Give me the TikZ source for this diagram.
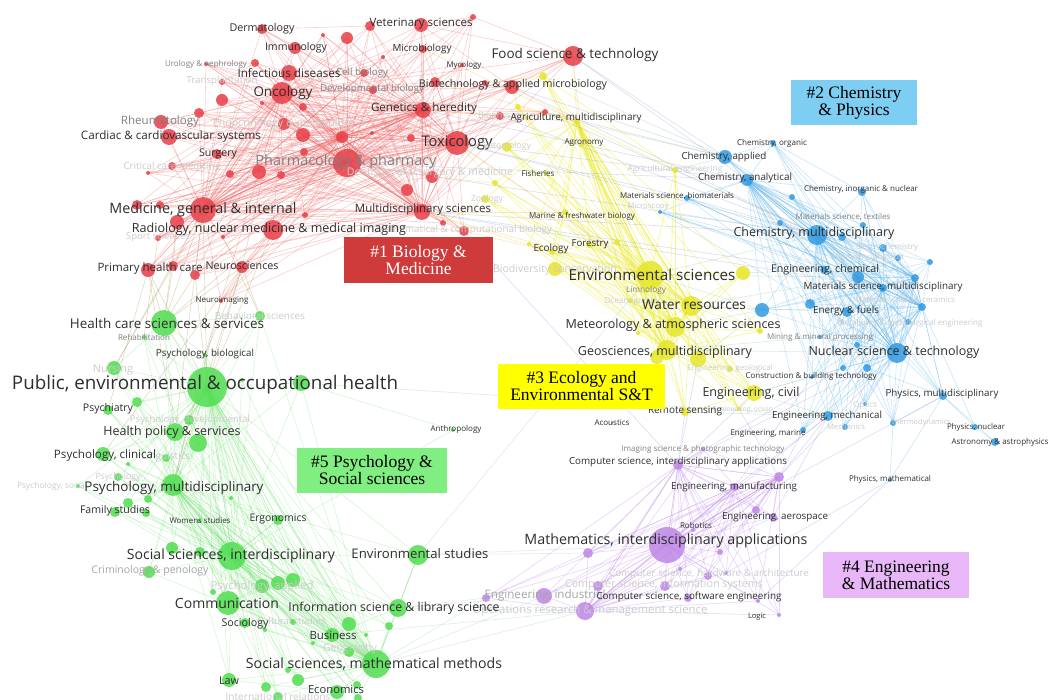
\documentclass[tikz,border=0pt]{standalone}
\usepackage{fontspec}
\usepackage{graphicx}
\newfontfamily\osans{Open Sans}
\newfontfamily\bserif{Liberation Serif}
\pgfdeclarelayer{bg}
\pgfdeclarelayer{edges}
\pgfsetlayers{bg,edges,main}
\definecolor{cR}{RGB}{232,62,72}
\definecolor{cY}{RGB}{230,230,40}
\definecolor{cB}{RGB}{50,155,225}
\definecolor{cP}{RGB}{190,135,230}
\definecolor{cG}{RGB}{80,222,80}
\definecolor{lR}{RGB}{240,95,95}
\definecolor{lY}{RGB}{236,236,30}
\definecolor{lB}{RGB}{90,180,235}
\definecolor{lP}{RGB}{200,150,240}
\definecolor{lG}{RGB}{100,225,100}
\definecolor{lRG}{RGB}{175,150,90}
\definecolor{lRY}{RGB}{240,190,60}
\definecolor{lRB}{RGB}{150,160,205}
\definecolor{lYB}{RGB}{150,200,160}
\definecolor{lBP}{RGB}{160,150,230}
\definecolor{lGP}{RGB}{170,200,200}
\definecolor{bx1}{RGB}{207,58,58}
\definecolor{bx2}{RGB}{126,206,244}
\definecolor{bx3}{RGB}{255,255,0}
\definecolor{bx4}{RGB}{231,183,247}
\definecolor{bx5}{RGB}{128,238,128}
\colorlet{dk}{black!82}
\colorlet{md}{black!50}
\colorlet{lt}{black!20}
\tikzset{
  bub/.style={circle,inner sep=0pt,outer sep=0pt,draw=none,fill opacity=0.85},
  lbl/.style={inner sep=0pt,outer sep=0pt},
  eR/.style={draw=lR,opacity=0.3,line width=0.6pt},
  eY/.style={draw=lY,opacity=0.45,line width=0.6pt},
  eB/.style={draw=lB,opacity=0.32,line width=0.6pt},
  eP/.style={draw=lP,opacity=0.4,line width=0.6pt},
  eG/.style={draw=lG,opacity=0.28,line width=0.6pt},
  eX/.style={opacity=0.35,line width=0.6pt},
  box/.style={inner sep=0pt,align=center,font=\bserif\fontsize{17.5}{17}\selectfont}
}
\newcommand\bubn[5]{\node[bub,fill=#5,minimum size=#4*2pt] (#1) at (#2,#3) {};}
\newcommand\lbln[6]{\node[lbl,text=#5] (L#1) at (#2,#3) {\resizebox{#4pt}{!}{\osans #6}};}
\begin{document}
\begin{tikzpicture}[x=1pt,y=-1pt]
\begin{pgfonlayer}{bg}
\fill[white] (0,0) rectangle (1050,700);
\end{pgfonlayer}
\useasboundingbox (0,0) rectangle (1050,700);
% ---------- red bubbles
\bubn{derm}{262}{29}{5}{cR}
\bubn{vetA}{370}{26}{5}{cR}
\bubn{vet}{421}{25}{7}{cR}
\bubn{rtop}{473}{17}{3}{cR}
\bubn{rs1}{323}{35}{2}{cR}
\bubn{rs2}{347}{38}{6}{cR}
\bubn{immu}{295}{48}{6}{cR}
\bubn{micro}{423}{49}{4}{cR}
\bubn{myco}{462}{65}{2}{cR}
\bubn{rs3}{383}{57}{2}{cR}
\bubn{uroA}{206}{64}{2}{cR}
\bubn{uro}{255}{63}{4}{cR}
\bubn{infect}{289}{73}{8}{cR}
\bubn{cellb}{364}{73}{4}{cR}
\bubn{transp}{222}{82}{3}{cR}
\bubn{onco}{282}{93}{11}{cR}
\bubn{devb}{373}{90}{4}{cR}
\bubn{rs4}{303}{107}{4}{cR}
\bubn{biot}{512}{87}{7}{cR}
\bubn{biotA}{435}{82}{5}{cR}
\bubn{rs5}{485}{83}{3}{cR}
\bubn{food}{573}{56}{10}{cR}
\bubn{genet}{423}{110}{8}{cR}
\bubn{rs6}{222}{100}{6}{cR}
\bubn{rs7}{199}{113}{5}{cR}
\bubn{rheum}{161}{122}{7}{cR}
\bubn{endo}{284}{124}{6}{cR}
\bubn{cardio}{169}{137}{8}{cR}
\bubn{rs8}{303}{135}{7}{cR}
\bubn{rs9}{342}{137}{6}{cR}
\bubn{rs10}{372}{133}{2}{cR}
\bubn{rs11}{411}{138}{4}{cR}
\bubn{tox}{457}{143}{12}{cR}
\bubn{biophys}{500}{116}{4}{cR}
\bubn{rs12}{545}{112}{3}{cR}
\bubn{surg}{217}{154}{5}{cR}
\bubn{rs13}{304}{152}{4}{cR}
\bubn{crit}{172}{166}{4}{cR}
\bubn{rs14}{148}{173}{2}{cR}
\bubn{pharm}{347}{163}{14}{cR}
\bubn{rs15}{259}{172}{7}{cR}
\bubn{rs16}{281}{175}{4}{cR}
\bubn{rs17}{230}{174}{4}{cR}
\bubn{dent}{432}{177}{6}{cR}
\bubn{rs18}{407}{190}{6}{cR}
\bubn{med}{203}{210}{13}{cR}
\bubn{rs19}{177}{222}{7}{cR}
\bubn{rs20}{137}{205}{5}{cR}
\bubn{rs21}{160}{205}{4}{cR}
\bubn{radio}{273}{230}{10}{cR}
\bubn{multi}{422}{212}{8}{cR}
\bubn{rs22}{443}{223}{3}{cR}
\bubn{mathb}{464}{231}{5}{cR}
\bubn{rs23}{305}{215}{3}{cR}
\bubn{rs24}{262}{103}{2}{cR}
\bubn{sport}{158}{238}{3}{cR}
\bubn{rs25}{223}{237}{2}{cR}
\bubn{primary}{148}{270}{7}{cR}
\bubn{rs27}{173}{266}{5}{cR}
\bubn{rs28}{195}{275}{5}{cR}
\bubn{neuro}{242}{267}{6}{cR}
\bubn{neuroim}{221}{301}{2}{cR}
% ---------- yellow bubbles
\bubn{yA}{543}{76}{4}{cY}
\bubn{agric}{577}{122}{3}{cY}
\bubn{yB}{518}{107}{3}{cY}
\bubn{entom}{507}{147}{5}{cY}
\bubn{agron}{582}{145}{2}{cY}
\bubn{fish}{545}{172}{2}{cY}
\bubn{yC}{495}{183}{3}{cY}
\bubn{zool}{485}{199}{4}{cY}
\bubn{marine}{565}{212}{3}{cY}
\bubn{yD}{529}{244}{2}{cY}
\bubn{ecol}{552}{252}{3}{cY}
\bubn{biodiv}{555}{269}{7}{cY}
\bubn{forest}{590}{245}{3}{cY}
\bubn{yE}{617}{242}{3}{cY}
\bubn{env}{650}{275}{14}{cY}
\bubn{yF}{743}{273}{7}{cY}
\bubn{limno}{646}{291}{2}{cY}
\bubn{ocean}{630}{301}{2}{cY}
\bubn{water}{691}{306}{10}{cY}
\bubn{meteo}{675}{327}{10}{cY}
\bubn{yG}{760}{331}{3}{cY}
\bubn{yH}{638}{333}{2}{cY}
\bubn{geo}{667}{350}{10}{cY}
\bubn{yI}{657}{357}{7}{cY}
\bubn{yJ}{698}{359}{8}{cY}
\bubn{engeol}{730}{369}{3}{cY}
\bubn{civil}{754}{393}{8}{cY}
\bubn{remote}{685}{412}{4}{cY}
\bubn{engoc}{739}{409}{2}{cY}
\bubn{agreng}{675}{170}{3}{cY}
% ---------- blue bubbles
\bubn{orgc}{773}{143}{3}{cB}
\bubn{chapp}{725}{157}{7}{cB}
\bubn{chana}{747}{180}{6}{cB}
\bubn{inorg}{862}{192}{4}{cB}
\bubn{bA}{792}{197}{3}{cB}
\bubn{biomat}{687}{198}{3}{cB}
\bubn{micros}{660}{212}{2}{cB}
\bubn{bB}{780}{223}{3}{cB}
\bubn{chmulti}{817}{235}{10}{cB}
\bubn{bC}{842}{237}{4}{cB}
\bubn{textile}{863}{225}{3}{cB}
\bubn{electro}{883}{248}{4}{cB}
\bubn{chphys}{898}{258}{3}{cB}
\bubn{engchem}{858}{277}{6}{cB}
\bubn{bD}{824}{270}{4}{cB}
\bubn{matmulti}{883}{288}{4}{cB}
\bubn{bE}{915}{278}{4}{cB}
\bubn{bF}{922}{307}{4}{cB}
\bubn{bG}{930}{262}{3}{cB}
\bubn{bH}{762}{310}{7}{cB}
\bubn{bI}{810}{304}{5}{cB}
\bubn{energy}{847}{312}{5}{cB}
\bubn{metall}{908}{322}{3}{cB}
\bubn{mining}{820}{337}{2}{cB}
\bubn{nuclear}{897}{353}{10}{cB}
\bubn{bJ}{867}{368}{4}{cB}
\bubn{bK}{843}{368}{3}{cB}
\bubn{bL}{857}{345}{3}{cB}
\bubn{constr}{812}{377}{2}{cB}
\bubn{physmulti}{943}{396}{4}{cB}
\bubn{optics}{865}{404}{2}{cB}
\bubn{engmech}{828}{416}{5}{cB}
\bubn{mechan}{845}{427}{3}{cB}
\bubn{thermo}{893}{423}{3}{cB}
\bubn{physnuc}{975}{427}{3}{cB}
\bubn{astro}{995}{442}{4}{cB}
\bubn{physmath}{890}{480}{2}{cB}
\bubn{engmar}{803}{430}{3}{cB}
% ---------- purple bubbles
\bubn{imaging}{703}{449}{2}{cP}
\bubn{acoust}{612}{423}{1.5}{cP}
\bubn{csint}{678}{465}{5}{cP}
\bubn{pA}{779}{477}{5}{cP}
\bubn{engman}{735}{487}{4}{cP}
\bubn{pB}{756}{510}{4}{cP}
\bubn{aero}{773}{517}{4}{cP}
\bubn{robot}{693}{530}{2}{cP}
\bubn{math}{667}{545}{18}{cP}
\bubn{pC}{588}{553}{5}{cP}
\bubn{pD}{720}{552}{3}{cP}
\bubn{pE}{680}{569}{2}{cP}
\bubn{pF}{708}{576}{4}{cP}
\bubn{pG}{726}{573}{2}{cP}
\bubn{infosys}{598}{586}{5}{cP}
\bubn{pH}{665}{586}{5}{cP}
\bubn{softeng}{688}{598}{4}{cP}
\bubn{indus}{544}{596}{8}{cP}
\bubn{oper}{585}{611}{9}{cP}
\bubn{pI}{486}{598}{4}{cP}
\bubn{pJ}{758}{601}{2}{cP}
\bubn{logic}{779}{615}{2}{cP}
% ---------- green bubbles
\bubn{hcare}{164}{323}{13}{cG}
\bubn{gA}{260}{316}{5}{cG}
\bubn{rehab}{144}{337}{2}{cG}
\bubn{psybio}{205}{355}{2}{cG}
\bubn{nursing}{114}{368}{7}{cG}
\bubn{public}{207}{387}{20}{cG}
\bubn{gB}{301}{383}{8}{cG}
\bubn{gC}{242}{380}{2}{cG}
\bubn{gD}{137}{402}{5}{cG}
\bubn{psychiat}{108}{410}{5}{cG}
\bubn{psydev}{189}{420}{5}{cG}
\bubn{hpolicy}{175}{432}{9}{cG}
\bubn{gE}{198}{443}{9}{cG}
\bubn{psyclin}{103}{454}{7}{cG}
\bubn{gF}{128}{464}{2}{cG}
\bubn{ling}{166}{458}{4}{cG}
\bubn{gG}{118}{477}{4}{cG}
\bubn{gH}{78}{486}{2}{cG}
\bubn{psymulti}{173}{485}{11}{cG}
\bubn{gI}{128}{503}{5}{cG}
\bubn{gJ}{148}{499}{4}{cG}
\bubn{family}{115}{512}{5}{cG}
\bubn{gK}{146}{513}{4}{cG}
\bubn{gL}{231}{498}{2}{cG}
\bubn{womens}{199}{521}{2}{cG}
\bubn{ergo}{278}{520}{5}{cG}
\bubn{gM}{172}{548}{6}{cG}
\bubn{gN}{200}{552}{5}{cG}
\bubn{socint}{232}{556}{14}{cG}
\bubn{crim}{149}{572}{6}{cG}
\bubn{gO}{213}{592}{3}{cG}
\bubn{psyapp}{262}{586}{7}{cG}
\bubn{gP}{278}{583}{7}{cG}
\bubn{gQ}{293}{580}{7}{cG}
\bubn{comm}{228}{603}{12}{cG}
\bubn{sociol}{245}{623}{5}{cG}
\bubn{gR}{265}{630}{2}{cG}
\bubn{cultur}{293}{622}{3}{cG}
\bubn{envst}{418}{555}{10}{cG}
\bubn{info}{398}{608}{9}{cG}
\bubn{gS}{349}{624}{7}{cG}
\bubn{gT}{389}{626}{4}{cG}
\bubn{busi}{332}{635}{7}{cG}
\bubn{gU}{366}{635}{2}{cG}
\bubn{gV}{313}{643}{2}{cG}
\bubn{geog}{349}{652}{5}{cG}
\bubn{socmath}{376}{664}{14}{cG}
\bubn{gW}{288}{670}{3}{cG}
\bubn{gX}{298}{680}{6}{cG}
\bubn{law}{229}{680}{7}{cG}
\bubn{gY}{266}{687}{5}{cG}
\bubn{intrel}{278}{697}{5}{cG}
\bubn{econ}{337}{692}{7}{cG}
\bubn{gZ}{357}{685}{4}{cG}
\bubn{gZa}{358}{698}{4}{cG}
\bubn{anthro}{453}{430}{2}{cG}
% ---------- edges
\def\Rl{derm,vetA,vet,rtop,rs1,rs2,immu,micro,myco,rs3,uroA,uro,infect,cellb,transp,onco,devb,rs4,biot,biotA,rs5,food,genet,rs6,rs7,rheum,endo,cardio,rs8,rs9,rs10,rs11,tox,biophys,rs12,surg,rs13,crit,rs14,pharm,rs15,rs16,rs17,dent,rs18,med,rs19,rs20,rs21,radio,multi,rs22,mathb,rs23,rs24,sport,rs25,primary,rs27,rs28,neuro,neuroim}
\def\Yl{yA,agric,yB,entom,agron,fish,yC,zool,marine,yD,ecol,biodiv,forest,yE,env,yF,limno,ocean,water,meteo,yG,yH,geo,yI,yJ,engeol,civil,remote,engoc,agreng}
\def\Bl{orgc,chapp,chana,inorg,bA,biomat,micros,bB,chmulti,bC,textile,electro,chphys,engchem,bD,matmulti,bE,bF,bG,bH,bI,energy,metall,mining,nuclear,bJ,bK,bL,constr,physmulti,optics,engmech,mechan,thermo,engmar}
\def\Pl{imaging,csint,pA,engman,pB,aero,robot,math,pC,pD,pE,pF,pG,infosys,pH,softeng,indus,oper,pI,pJ,logic}
\def\Gl{hcare,gA,rehab,psybio,nursing,public,gB,gC,gD,psychiat,psydev,hpolicy,gE,psyclin,gF,ling,gG,gH,psymulti,gI,gJ,family,gK,gL,womens,ergo,gM,gN,socint,crim,gO,psyapp,gP,gQ,comm,sociol,gR,cultur,envst,info,gS,gT,busi,gU,gV,geog,socmath,gW,gX,law,gY,intrel,econ,gZ,gZa}
\begin{pgfonlayer}{edges}
\foreach \h in {pharm,tox,onco,med,multi,genet,rs9}{\foreach \t in \Rl {\draw[eR] (\h.center) -- (\t.center);}}
\foreach \a/\b in {vet/rtop,vet/food,vetA/derm,vet/micro,food/biot,food/rtop,primary/med,primary/neuro,primary/rs27,neuroim/neuro,sport/med,neuro/radio,rs28/neuro,rs27/rs19,rheum/cardio,rheum/rs7,derm/immu,uro/transp,uroA/uro,vet/biot,biot/biotA}{\draw[eR] (\a.center) -- (\b.center);}
\foreach \h in {env,water,geo,meteo,agric}{\foreach \t in \Yl {\draw[eY] (\h.center) -- (\t.center);}}
\foreach \a/\b in {marine/ecol,fish/marine,ecol/biodiv,forest/ecol,civil/yJ,civil/remote,civil/engoc,yA/agreng}{\draw[eY] (\a.center) -- (\b.center);}
\foreach \h in {chmulti,matmulti,engchem,nuclear,bE,bF,chana}{\foreach \t in \Bl {\draw[eB] (\h.center) -- (\t.center);}}
\foreach \a/\b in {physmulti/physnuc,physmulti/astro,physnuc/astro,physmulti/physmath,physmulti/thermo,physmath/thermo,chapp/orgc,orgc/inorg,physmulti/bJ,physnuc/bF}{\draw[eB] (\a.center) -- (\b.center);}
\foreach \h in {math,csint,pA,oper,engman}{\foreach \t in \Pl {\draw[eP] (\h.center) -- (\t.center);}}
\foreach \h in {public,psymulti,socint,socmath}{\foreach \t in \Gl {\draw[eG] (\h.center) -- (\t.center);}}
\foreach \a/\b in {envst/info,envst/socmath,info/busi,econ/law,comm/sociol,ergo/socint,anthro/socint,anthro/gB,hcare/gA,hcare/rehab,hcare/psybio,hcare/nursing,hcare/hpolicy,hpolicy/gE,hpolicy/psyclin,comm/psyapp,comm/gP}{\draw[eG] (\a.center) -- (\b.center);}
\foreach \a/\b in {med/public,med/hcare,primary/hcare,primary/public,primary/psychiat,neuro/psybio,neuro/psymulti,neuro/public,neuro/hcare,neuroim/psybio,rs27/hcare,rs28/hcare,rs28/public,radio/hcare,rs25/gA,neuro/gA,med/hpolicy,sport/rehab,rs19/hcare,med/nursing,rs27/nursing,neuro/psyclin,neuroim/psymulti,radio/public,primary/hpolicy}{\draw[eX,draw=lRG] (\a.center) -- (\b.center);}
\foreach \a/\b in {biot/agric,biot/yA,food/agric,food/yA,tox/env,tox/entom,multi/ecol,multi/env,rs22/zool,genet/agric,biophys/yB,rs12/agric,biot/yB,food/agron,biotA/agric,tox/yC,multi/marine,mathb/ecol,dent/yC,rs5/yA,micro/agric,tox/water}{\draw[eX,draw=lRY] (\a.center) -- (\b.center);}
\foreach \a/\b in {food/chapp,biot/chapp,tox/chmulti,tox/chana,multi/chmulti,biot/chmulti,pharm/chmulti,food/chana,rs12/chapp,biophys/chmulti,multi/matmulti,genet/chana,rs12/bE,tox/biomat,multi/bD,pharm/chana}{\draw[eX,draw=lRB] (\a.center) -- (\b.center);}
\foreach \a/\b in {env/chmulti,env/engchem,water/bH,water/engchem,geo/nuclear,civil/bK,civil/engmech,agric/chapp,agreng/chapp,meteo/bH,yF/bD,env/bH,agreng/chmulti,yA/chapp,water/energy,civil/constr,yJ/bH,remote/engmech,geo/mining,gB/engmech}{\draw[eX,draw=lYB] (\a.center) -- (\b.center);}
\foreach \a/\b in {engmech/engman,engmech/aero,physmath/pG,physmulti/math,nuclear/csint,bK/csint,engmar/pA,engmech/pA,physmath/pJ,constr/engman,nuclear/pA,engmech/math,civil/csint,remote/csint,engoc/pA,yJ/csint,mathb/csint}{\draw[eX,draw=lBP] (\a.center) -- (\b.center);}
\foreach \a/\b in {info/indus,info/oper,socmath/oper,socmath/indus,envst/math,info/pI,socmath/pI,envst/pC,busi/oper,envst/env}{\draw[eX,draw=lGP] (\a.center) -- (\b.center);}
\end{pgfonlayer}
% ---------- labels: red
\lbln{transp}{222}{81}{71}{lt}{Transplantation}
\lbln{endo}{284}{124}{142}{lt}{Endocrinology \& metabolism}
\lbln{biophys}{500}{116}{44}{lt}{Biophysics}
\lbln{crit}{172}{166}{97}{lt}{Critical care medicine}
\lbln{dent}{430}{173}{166}{lt}{Dentistry, oral surgery \& medicine}
\lbln{mathb}{464}{230}{176}{lt}{Mathematical \& computational biology}
\lbln{sport}{158}{237}{64}{lt}{Sport sciences}
\lbln{uro}{206}{64}{82}{md}{Urology \& nephrology}
\lbln{cellb}{362}{73}{52}{md}{Cell biology}
\lbln{devb}{372}{89}{104}{md}{Developmental biology}
\lbln{rheum}{160}{122}{78}{md}{Rheumatology}
\lbln{pharm}{346}{162}{181}{md}{Pharmacology \& pharmacy}
\lbln{derm}{262}{29}{65}{dk}{Dermatology}
\lbln{vet}{421}{24}{103}{dk}{Veterinary sciences}
\lbln{immu}{296}{48}{62}{dk}{Immunology}
\lbln{micro}{422}{49}{59}{dk}{Microbiology}
\lbln{myco}{464}{65}{35}{dk}{Mycology}
\lbln{infect}{289}{73}{103}{dk}{Infectious diseases}
\lbln{onco}{283}{93}{59}{dk}{Oncology}
\lbln{biot}{513}{85}{188}{dk}{Biotechnology \& applied microbiology}
\lbln{food}{575}{55}{167}{dk}{Food science \& technology}
\lbln{genet}{424}{108}{106}{dk}{Genetics \& heredity}
\lbln{cardio}{171}{136}{180}{dk}{Cardiac \& cardiovascular systems}
\lbln{tox}{457}{143}{71}{dk}{Toxicology}
\lbln{surg}{218}{154}{38}{dk}{Surgery}
\lbln{med}{203}{210}{187}{dk}{Medicine, general \& internal}
\lbln{multi}{423}{210}{136}{dk}{Multidisciplinary sciences}
\lbln{radio}{269}{229}{274}{dk}{Radiology, nuclear medicine \& medical imaging}
\lbln{primary}{150}{269}{105}{dk}{Primary health care}
\lbln{neuro}{242}{266}{73}{dk}{Neurosciences}
\lbln{neuroim}{222}{301}{53}{dk}{Neuroimaging}
% ---------- labels: yellow
\lbln{entom}{507}{146}{48}{lt}{Entomology}
\lbln{agreng}{675}{169}{95}{lt}{Agricultural engineering}
\lbln{zool}{487}{199}{32}{lt}{Zoology}
\lbln{biodiv}{555}{270}{124}{lt}{Biodiversity conservation}
\lbln{ocean}{632}{301}{56}{lt}{Oceanography}
\lbln{engeol}{730}{368}{85}{lt}{Engineering, geological}
\lbln{engoc}{743}{410}{60}{lt}{Engineering, ocean}
\lbln{limno}{646}{290}{40}{md}{Limnology}
\lbln{agric}{576}{118}{131}{dk}{Agriculture, multidisciplinary}
\lbln{agron}{584}{143}{39}{dk}{Agronomy}
\lbln{fish}{538}{173}{33}{dk}{Fisheries}
\lbln{marine}{582}{216}{106}{dk}{Marine \& freshwater biology}
\lbln{ecol}{551}{249}{35}{dk}{Ecology}
\lbln{forest}{590}{244}{37}{dk}{Forestry}
\lbln{env}{652}{275}{167}{dk}{Environmental sciences}
\lbln{water}{694}{305}{104}{dk}{Water resources}
\lbln{meteo}{673}{325}{215}{dk}{Meteorology \& atmospheric sciences}
\lbln{geo}{665}{352}{174}{dk}{Geosciences, multidisciplinary}
\lbln{civil}{751}{393}{97}{dk}{Engineering, civil}
\lbln{remote}{685}{411}{74}{dk}{Remote sensing}
% ---------- labels: blue
\lbln{micros}{648}{207}{41}{lt}{Microscopy}
\lbln{electro}{887}{247}{62}{lt}{Electrochemistry}
\lbln{chphys}{867}{257}{73}{lt}{Chemistry, physical}
\lbln{ceram}{905}{300}{100}{lt}{Materials science, ceramics}
\lbln{metall}{910}{323}{145}{lt}{Metallurgy \& metallurgical engineering}
\lbln{optics}{865}{405}{24}{lt}{Optics}
\lbln{mechan}{846}{427}{38}{lt}{Mechanics}
\lbln{thermo}{921}{423}{60}{lt}{Thermodynamics}
\lbln{textile}{843}{217}{95}{md}{Materials science, textiles}
\lbln{mining}{820}{337}{106}{md}{Mining \& mineral processing}
\lbln{orgc}{772}{143}{70}{dk}{Chemistry, organic}
\lbln{chapp}{724}{157}{85}{dk}{Chemistry, applied}
\lbln{chana}{745}{178}{94}{dk}{Chemistry, analytical}
\lbln{inorg}{861}{189}{114}{dk}{Chemistry, inorganic \& nuclear}
\lbln{biomat}{677}{196}{114}{dk}{Materials science, biomaterials}
\lbln{chmulti}{814}{233}{161}{dk}{Chemistry, multidisciplinary}
\lbln{engchem}{825}{270}{108}{dk}{Engineering, chemical}
\lbln{matmulti}{883}{287}{159}{dk}{Materials science, multidisciplinary}
\lbln{energy}{846}{311}{66}{dk}{Energy \& fuels}
\lbln{nuclear}{894}{352}{171}{dk}{Nuclear science \& technology}
\lbln{constr}{811}{376}{131}{dk}{Construction \& building technology}
\lbln{physmulti}{942}{394}{113}{dk}{Physics, multidisciplinary}
\lbln{engmech}{827}{416}{110}{dk}{Engineering, mechanical}
\lbln{physnuc}{976}{427}{58}{dk}{Physics, nuclear}
\lbln{astro}{1000}{442}{97}{dk}{Astronomy \& astrophysics}
\lbln{physmath}{890}{479}{82}{dk}{Physics, mathematical}
\lbln{engmar}{768}{434}{75}{dk}{Engineering, marine}
% ---------- labels: purple / centre
\lbln{hardw}{709}{574}{200}{lt}{Computer science, hardware \& architecture}
\lbln{infosys}{664}{585}{198}{lt}{Computer science, information systems}
\lbln{oper}{590}{611}{235}{lt}{Operations research \& management science}
\lbln{indus}{545}{595}{121}{black!35}{Engineering, industrial}
\lbln{imaging}{703}{449}{163}{md}{Imaging science \& photographic technology}
\lbln{anthro}{456}{429}{51}{dk}{Anthropology}
\lbln{acoust}{612}{423}{35}{dk}{Acoustics}
\lbln{csint}{678}{462}{218}{dk}{Computer science, interdisciplinary applications}
\lbln{engman}{734}{487}{126}{dk}{Engineering, manufacturing}
\lbln{aero}{775}{517}{106}{dk}{Engineering, aerospace}
\lbln{robot}{696}{525}{32}{dk}{Robotics}
\lbln{math}{666}{541}{283}{dk}{Mathematics, interdisciplinary applications}
\lbln{softeng}{689}{597}{185}{dk}{Computer science, software engineering}
\lbln{logic}{757}{617}{18}{dk}{Logic}
% ---------- labels: green
\lbln{behav}{260}{316}{90}{lt}{Behavioral sciences}
\lbln{nursing}{113}{370}{40}{lt}{Nursing}
\lbln{psydev}{190}{420}{120}{lt}{Psychology, developmental}
\lbln{ling}{166}{457}{49}{lt}{Linguistics}
\lbln{psy}{118}{477}{45}{lt}{Psychology}
\lbln{psysoc}{52}{486}{70}{lt}{Psychology, social}
\lbln{psyapp}{262}{587}{103}{lt}{Psychology, applied}
\lbln{cultur}{291}{621}{68}{lt}{Cultural studies}
\lbln{geog}{350}{649}{54}{lt}{Geography}
\lbln{intrel}{278}{697}{105}{lt}{International relations}
\lbln{crim}{150}{571}{117}{black!35}{Criminology \& penology}
\lbln{rehab}{144}{337}{52}{md}{Rehabilitation}
\lbln{hcare}{167}{323}{194}{dk}{Health care sciences \& services}
\lbln{psybio}{205}{354}{98}{dk}{Psychology, biological}
\lbln{public}{205}{385}{386}{dk}{Public, environmental \& occupational health}
\lbln{psychiat}{108}{409}{50}{dk}{Psychiatry}
\lbln{hpolicy}{172}{432}{137}{dk}{Health policy \& services}
\lbln{psyclin}{105}{455}{102}{dk}{Psychology, clinical}
\lbln{psymulti}{174}{488}{179}{dk}{Psychology, multidisciplinary}
\lbln{family}{115}{511}{70}{dk}{Family studies}
\lbln{womens}{200}{521}{61}{dk}{Womens studies}
\lbln{ergo}{278}{519}{57}{dk}{Ergonomics}
\lbln{socint}{231}{556}{208}{dk}{Social sciences, interdisciplinary}
\lbln{comm}{227}{603}{104}{dk}{Communication}
\lbln{sociol}{245}{624}{47}{dk}{Sociology}
\lbln{envst}{420}{554}{137}{dk}{Environmental studies}
\lbln{info}{394}{608}{211}{dk}{Information science \& library science}
\lbln{busi}{333}{635}{47}{dk}{Business}
\lbln{socmath}{374}{664}{256}{dk}{Social sciences, mathematical methods}
\lbln{law}{229}{681}{20}{dk}{Law}
\lbln{econ}{336}{689}{56}{dk}{Economics}
% ---------- cluster boxes
\node[box,fill=bx1,text=white,minimum width=149pt,minimum height=46pt] (k1) at (418.5,260) {\#1 Biology \&\\Medicine};
\node[box,fill=bx2,minimum width=126pt,minimum height=45pt] (k2) at (854,102.5) {\#2 Chemistry\\\& Physics};
\node[box,fill=bx3,minimum width=167pt,minimum height=45pt] (k3) at (581.5,386.5) {\#3 Ecology and\\Environmental S\&T};
\node[box,fill=bx4,minimum width=146pt,minimum height=46pt] (k4) at (896,575) {\#4 Engineering\\\& Mathematics};
\node[box,fill=bx5,minimum width=150pt,minimum height=45pt] (k5) at (372,470.5) {\#5 Psychology \&\\Social sciences};
\end{tikzpicture}
\end{document}
